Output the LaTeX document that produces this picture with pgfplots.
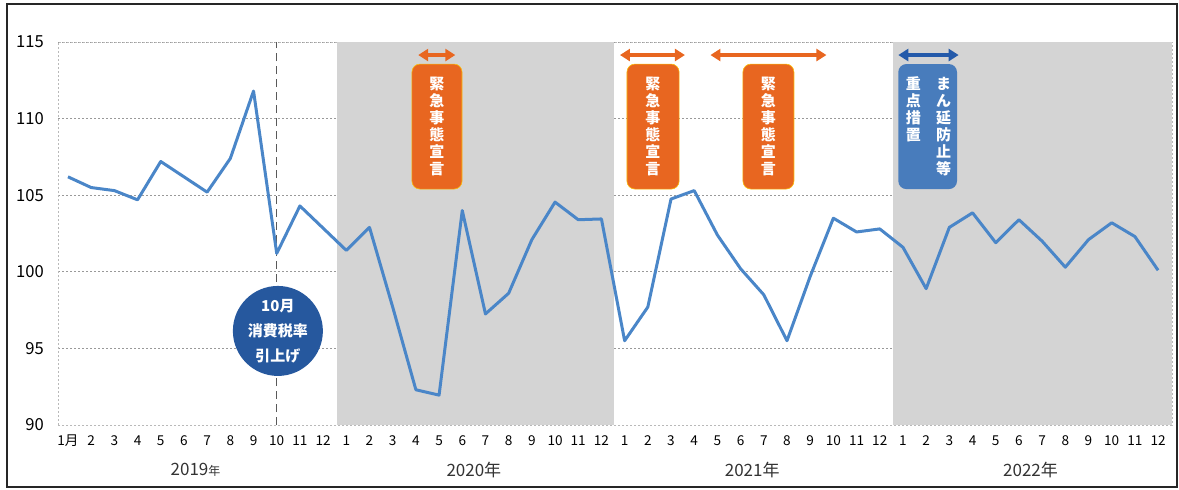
\documentclass[border=0pt]{standalone}
\usepackage{fontspec}
\setmainfont{Noto Sans CJK JP}
\usepackage{pgfplots}
\usepackage{pgfplotstable}
\pgfplotsset{compat=1.18}
\usetikzlibrary{arrows.meta}

\definecolor{lineblue}{RGB}{74,134,200}
\definecolor{shade}{RGB}{212,212,212}
\definecolor{circblue}{RGB}{38,88,158}
\definecolor{boxorange}{RGB}{232,102,32}
\definecolor{boxblue}{RGB}{72,124,188}
\definecolor{arrblue}{RGB}{36,90,170}

% monthly index, 2019-01 = 0
\pgfplotstableread{
i v
0 106.2
1 105.5
2 105.3
3 104.7
4 107.2
5 106.2
6 105.2
7 107.4
8 111.8
9 101.2
10 104.3
11 102.85
12 101.4
13 102.9
14 97.7
15 92.3
16 91.95
17 104.0
18 97.25
19 98.6
20 102.1
21 104.55
22 103.4
23 103.45
24 95.5
25 97.7
26 104.75
27 105.3
28 102.4
29 100.2
30 98.5
31 95.5
32 99.7
33 103.5
34 102.6
35 102.8
36 101.6
37 98.9
38 102.9
39 103.85
40 101.9
41 103.4
42 102.0
43 100.3
44 102.1
45 103.2
46 102.3
47 100.1
}\data

\newcommand{\vfont}{\fontsize{7.5}{8.5}\selectfont\bfseries}

\begin{document}
\begin{tikzpicture}
\useasboundingbox (0,0) rectangle (589.5pt,244.5pt);
\begin{axis}[
    at={(29pt,32pt)}, anchor=south west,
    scale only axis,
    width=557pt, height=191.5pt,
    xmin=-0.43, xmax=47.6,
    ymin=90, ymax=115,
    ytick={90,95,...,115},
    xtick={0,...,47},
    xticklabels={1月,2,3,4,5,6,7,8,9,10,11,12,1,2,3,4,5,6,7,8,9,10,11,12,1,2,3,4,5,6,7,8,9,10,11,12,1,2,3,4,5,6,7,8,9,10,11,12},
    tick style={draw=none},
    ymajorgrids,
    major grid style={gray!80, line width=0.4pt, dash pattern=on 1.2pt off 0.8pt},
    axis line style={gray!55, line width=0.4pt, dash pattern=on 1.2pt off 0.8pt},
    /pgf/number format/assume math mode=true,
    yticklabel style={font=\fontsize{8.3}{9}\selectfont, xshift=-3.6pt},
    xticklabel style={font=\fontsize{6.8}{7}\selectfont, anchor=center, yshift=-8pt},
    clip=false,
]
\addplot[draw=none, fill=shade] coordinates {(11.58,90) (11.58,115) (23.55,115) (23.55,90)} -- cycle;
\addplot[draw=none, fill=shade] coordinates {(35.58,90) (35.58,115) (47.6,115) (47.6,90)} -- cycle;
\addplot[gray!70!black, line width=0.6pt, dash pattern=on 4pt off 2.5pt] coordinates {(9,90) (9,115)};
\addplot[lineblue, line width=1.5pt, line join=round] table[x=i, y=v]{\data};

% year labels
\node[font=\fontsize{8.5}{9}\selectfont, text=black!80, yshift=-22.5pt] at (5.5,90) {2019{\fontsize{6}{6}\selectfont 年}};
\node[font=\fontsize{8.5}{9}\selectfont, text=black!80, yshift=-22.5pt] at (17.5,90) {2020年};
\node[font=\fontsize{8.5}{9}\selectfont, text=black!80, yshift=-22.5pt] at (29.5,90) {2021年};
\node[font=\fontsize{8.5}{9}\selectfont, text=black!80, yshift=-22.5pt] at (41.5,90) {2022年};

% consumption tax circle
\node[circle, fill=circblue, minimum size=45pt, inner sep=0, text=white, align=center,
      font=\fontsize{7.5}{12.5}\selectfont\bfseries] at (9.05,96.14) {10月\\消費税率\\引上げ};

% arrows
\draw[boxorange, line width=1.8pt, {Triangle[length=5pt,width=6pt]}-{Triangle[length=5pt,width=6pt]}] (15.1,114.15) -- (16.7,114.15);
\draw[boxorange, line width=1.8pt, {Triangle[length=5pt,width=6pt]}-{Triangle[length=5pt,width=6pt]}] (23.8,114.15) -- (26.6,114.15);
\draw[boxorange, line width=1.8pt, {Triangle[length=5pt,width=6pt]}-{Triangle[length=5pt,width=6pt]}] (27.7,114.15) -- (32.7,114.15);
\draw[arrblue, line width=1.8pt, {Triangle[length=5pt,width=6pt]}-{Triangle[length=5pt,width=6pt]}] (35.8,114.15) -- (38.4,114.15);

% boxes
\draw[fill=boxorange, draw=yellow!50!orange, line width=0.3pt, rounded corners=4pt] (14.83,105.4) rectangle (16.99,113.56);
\draw[fill=boxorange, draw=yellow!50!orange, line width=0.3pt, rounded corners=4pt] (24.1,105.4) rectangle (26.35,113.56);
\draw[fill=boxorange, draw=yellow!50!orange, line width=0.3pt, rounded corners=4pt] (29.1,105.4) rectangle (31.3,113.56);
\draw[fill=boxblue, draw=none, rounded corners=4pt] (35.8,105.4) rectangle (38.33,113.56);

\node[anchor=north, text=white, align=center, font=\vfont, inner sep=0] at (15.91,112.75) {緊\\急\\事\\態\\宣\\言};
\node[anchor=north, text=white, align=center, font=\vfont, inner sep=0] at (25.22,112.75) {緊\\急\\事\\態\\宣\\言};
\node[anchor=north, text=white, align=center, font=\vfont, inner sep=0] at (30.2,112.75) {緊\\急\\事\\態\\宣\\言};
\node[anchor=north, text=white, align=center, font=\vfont, inner sep=0] at (37.75,112.75) {ま\\ん\\延\\防\\止\\等};
\node[anchor=north, text=white, align=center, font=\vfont, inner sep=0] at (36.45,112.75) {重\\点\\措\\置};
\end{axis}
\draw[black!85, line width=1pt] (3.5pt,1pt) rectangle (588.5pt,242.5pt);
\end{tikzpicture}
\end{document}
